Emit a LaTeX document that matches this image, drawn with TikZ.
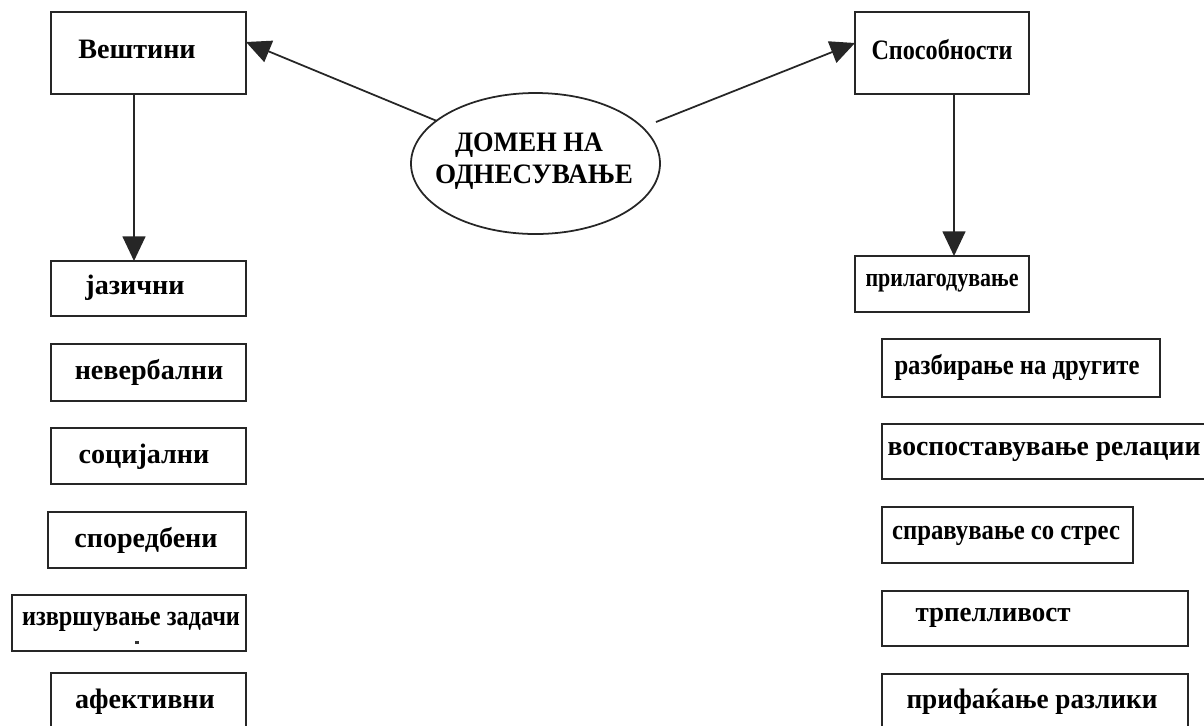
\documentclass[tikz,border=0pt]{standalone}
\usepackage{fontspec}
\usepackage{graphicx}
\setmainfont{Liberation Serif}
\usetikzlibrary{arrows.meta,shapes.geometric,calc}
\newlength\pxu
\setlength\pxu{0.02cm}
% set a label to a given width (in px units), optionally squeezing its height
\newcommand\fitw[3][1]{\resizebox{#2\pxu}{#1\height}{#3}}
\begin{document}
\begin{tikzpicture}[x=0.02cm,y=-0.02cm,
  every node/.style={inner sep=0pt, outer sep=0pt},
  box/.style n args={2}{draw=black!85, line width=1pt, rectangle,
    minimum width=#1*0.02cm, minimum height=#2*0.02cm},
  lbl/.style={font=\fontsize{16}{18}\selectfont\bfseries, text=black},
  arr/.style={draw=black!85, line width=1pt,
    -{Triangle[length=14pt,width=13pt]}}]
\clip (0,0) rectangle (1204,725);
\useasboundingbox (0,0) rectangle (1204,725);

% central ellipse
\node[ellipse, draw=black!85, line width=1pt, minimum width=249*0.02cm,
      minimum height=141*0.02cm] (dom) at (535.5,163.5) {};
\node[lbl] (domt1) at (529,145) {\fitw{148}{ДОМЕН НА}};
\node[lbl] (domt2) at (534,177) {\fitw{198}{ОДНЕСУВАЊЕ}};

% top-level boxes
\node[box={195}{82}] (vesh) at (148.5,53) {};
\node[lbl] (vesht) at (137,49) {Вештини};
\node[box={174}{82}] (spos) at (942,53) {};
\node[lbl] (spost) at (942,50) {\fitw{141}{Способности}};

% left column: skills
\node[box={195}{55}] (jaz) at (148.5,288.5) {};
\node[lbl] (jazt) at (135,288) {јазични};
\node[box={195}{57}] (nev) at (148.5,372.5) {};
\node[lbl] (nevt) at (149,372) {невербални};
\node[box={195}{56}] (soc) at (148.5,456) {};
\node[lbl] (soct) at (144,457) {социјални};
\node[box={198}{56}] (spor) at (147,540) {};
\node[lbl] (sport) at (146,540) {споредбени};
\node[box={234}{56}] (izv) at (129,623) {};
\node[lbl] (izvt) at (131,622) {\fitw{218}{извршување задачи}};
\fill[black!80] (135,640.5) rectangle (139,643.5);
\node[box={195}{67}] (afek) at (148.5,706.5) {};
\node[lbl] (afekt) at (145,702) {афективни};

% right column: abilities
\node[box={174}{56}] (pril) at (942,284) {};
\node[lbl] (prilt) at (942,283) {\fitw[0.93]{153}{прилагодување}};
\node[box={278}{58}] (razb) at (1021,368) {};
\node[lbl] (razbt) at (1017,367) {\fitw{245}{разбирање на другите}};
\node[box={338}{55}] (vosp) at (1051,451.5) {};
\node[lbl] (vospt) at (1044,452) {\fitw{313}{воспоставување релации}};
\node[box={251}{56}] (sprav) at (1007.5,535) {};
\node[lbl] (spravt) at (1006,536) {\fitw{228}{справување со стрес}};
\node[box={306}{55}] (trp) at (1035,618.5) {};
\node[lbl] (trpt) at (993,618) {\fitw{155}{трпелливост}};
\node[box={306}{66}] (prif) at (1035,707) {};
\node[lbl] (prift) at (1032,702) {\fitw{251}{прифаќање разлики}};

% connectors
\coordinate (dl) at (437,121);
\coordinate (dr) at (656,122);
\draw[arr] (dl) -- ($(vesh.east)+(0,-11)$);
\draw[arr] (dr) -- ($(spos.west)+(0,-10)$);
\draw[arr] ($(vesh.south)+(-14.5,0)$) -- ($(jaz.north)+(-14.5,0)$);
\draw[arr] ($(spos.south)+(12,0)$) -- ($(pril.north)+(12,0)$);
\end{tikzpicture}
\end{document}
